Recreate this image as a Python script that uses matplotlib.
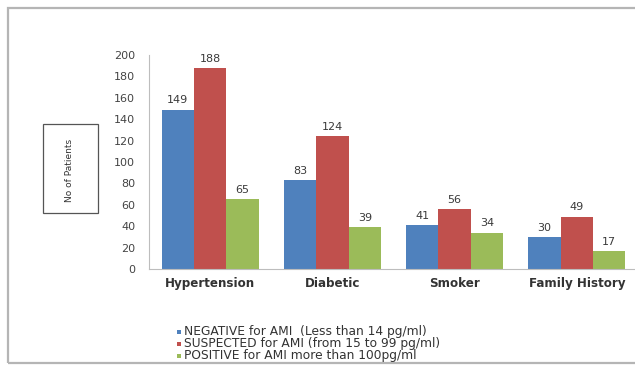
import numpy as np
import matplotlib
matplotlib.use("Agg")
import matplotlib.pyplot as plt
from matplotlib.patches import Rectangle

plt.rcParams["font.family"] = ["DejaVu Sans"]

categories = ["Hypertension", "Diabetic", "Smoker", "Family History"]
negative = [149, 83, 41, 30]
suspected = [188, 124, 56, 49]
positive = [65, 39, 34, 17]

series_labels = [
    "NEGATIVE for AMI  (Less than 14 pg/ml)",
    "SUSPECTED for AMI (from 15 to 99 pg/ml)",
    "POSITIVE for AMI more than 100pg/ml",
]
colors = ["#4F81BD", "#C0504D", "#9BBB59"]

W, H = 635, 371
fig = plt.figure(figsize=(W / 100, H / 100), dpi=100)

# outer frame (right edge runs off the picture)
fig.patches.append(Rectangle((8 / W, 1 - 363 / H), 640 / W, (363 - 8) / H,
                             transform=fig.transFigure, fill=False,
                             edgecolor="#b5b5b5", lw=1.6))

ax = fig.add_axes([149 / W, 1 - 269 / H, 489 / W, 214 / H])

x = np.arange(len(categories))
bw = 0.265
for i, (vals, col) in enumerate(zip([negative, suspected, positive], colors)):
    pos = x + (i - 1) * bw
    ax.bar(pos, vals, width=bw, color=col, edgecolor="none")
    for p, v in zip(pos, vals):
        ax.annotate(str(v), (p, v), textcoords="offset points", xytext=(0, 3),
                    ha="center", va="bottom", fontsize=8, color="#3a3a3a")

ax.set_xlim(-0.5, len(categories) - 0.5)
ax.set_ylim(0, 200)
ax.set_yticks(range(0, 201, 20))
ax.set_xticks(x)
ax.set_xticklabels(categories, fontsize=8.6, fontweight="bold", color="#333333")
ax.tick_params(axis="y", length=0, labelsize=8, labelcolor="#444444", pad=10)
ax.tick_params(axis="x", length=0, pad=6)
for s in ["top", "right"]:
    ax.spines[s].set_visible(False)
for s in ["left", "bottom"]:
    ax.spines[s].set_color("#bdbdbd")
    ax.spines[s].set_linewidth(0.8)

# y label in a box
fig.patches.append(Rectangle((43 / W, 1 - 213 / H), 55 / W, 89 / H,
                             transform=fig.transFigure, fill=False,
                             edgecolor="#555555", lw=0.9))
fig.text(70 / W, 1 - 170 / H, "No of Patients", rotation=90, fontsize=6.5,
         ha="center", va="center", color="#333333")

# legend drawn by hand so the rows sit as tight as in the original
row_y = [332, 344, 356]
for lab, col, yy in zip(series_labels, colors, row_y):
    fig.patches.append(Rectangle((177 / W, 1 - (yy + 2) / H), 4 / W, 4 / H,
                                 transform=fig.transFigure, facecolor=col,
                                 edgecolor="none"))
    fig.text(184 / W, 1 - yy / H, lab, fontsize=8.8, ha="left", va="center",
             color="#333333")

fig.savefig("out.png", dpi=100)
